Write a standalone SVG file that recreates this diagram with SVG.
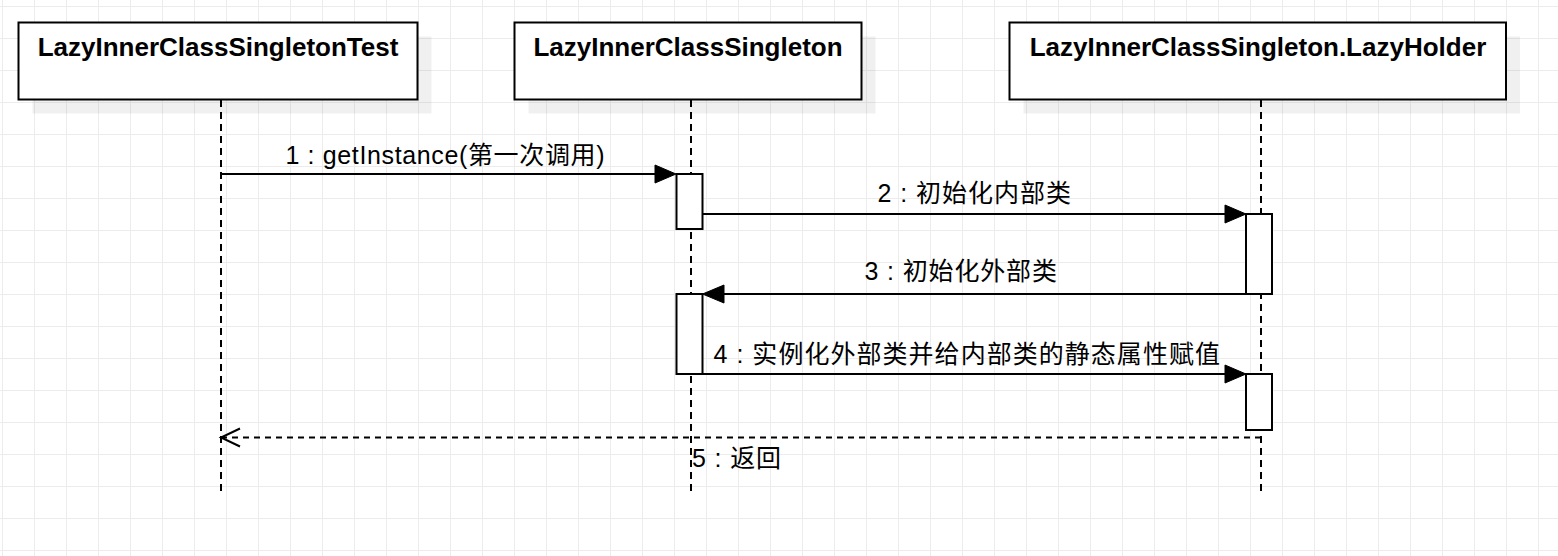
<svg xmlns="http://www.w3.org/2000/svg" width="1558" height="556" viewBox="0 0 1558 556">
<style>
.box{fill:#ffffff;stroke:#000000;stroke-width:2}
.shadow{fill:#000000;fill-opacity:0.06;stroke:none}
.title{font-family:"Liberation Sans",Arial,"Noto Sans CJK SC",sans-serif;font-weight:bold;font-size:26px;fill:#000000;text-anchor:middle}
.life{fill:none;stroke:#000000;stroke-width:2;stroke-dasharray:7 5}
.act{fill:#ffffff;stroke:#000000;stroke-width:2}
.msg{fill:none;stroke:#000000;stroke-width:2}
.ret{fill:none;stroke:#000000;stroke-width:2;stroke-dasharray:6 5}
.head{fill:#000000;stroke:#000000;stroke-width:1}
.open{fill:none;stroke:#000000;stroke-width:2}
.lbl{font-family:"Liberation Sans",Arial,"Noto Sans CJK SC",sans-serif;font-size:25px;fill:#000000}
</style>
<defs>
<pattern id="grid" x="0" y="0" width="32" height="32" patternUnits="userSpaceOnUse">
<path d="M2.5 0V32M0 6.5H32" fill="none" stroke="#ececec" stroke-width="1"/>
</pattern>
</defs>
<rect x="0" y="0" width="1558" height="556" fill="#ffffff"/>
<rect x="0" y="0" width="1558" height="556" fill="url(#grid)"/>

<g id="p1">
<rect class="shadow" x="32.5" y="36.5" width="399" height="77"/>
<rect class="box" x="18.5" y="22.5" width="399" height="77"/>
<text class="title" x="218" y="56">LazyInnerClassSingletonTest</text>
<line class="life" x1="221" y1="100" x2="221" y2="492"/>
</g>

<g id="p2">
<rect class="shadow" x="528.5" y="36.5" width="347" height="77"/>
<rect class="box" x="514.5" y="22.5" width="347" height="77"/>
<text class="title" x="688" y="56">LazyInnerClassSingleton</text>
<line class="life" x1="691" y1="100" x2="691" y2="492"/>
</g>

<g id="p3">
<rect class="shadow" x="1023.5" y="36.5" width="496.5" height="77"/>
<rect class="box" x="1009.5" y="22.5" width="496.5" height="77"/>
<text class="title" x="1258" y="56">LazyInnerClassSingleton.LazyHolder</text>
<line class="life" x1="1261" y1="100" x2="1261" y2="492"/>
</g>

<g id="a1"><rect class="act" x="676.5" y="174" width="26" height="55"/></g>
<g id="a2"><rect class="act" x="676.5" y="294" width="26" height="80"/></g>
<g id="a3"><rect class="act" x="1246" y="214" width="26" height="80"/></g>
<g id="a4"><rect class="act" x="1246" y="374" width="26" height="56"/></g>

<g id="connectors">
<line class="msg" x1="221" y1="174" x2="660" y2="174"/>
<polygon class="head" points="676,174 655,165 655,183"/>
<text class="lbl" x="285.5" y="163.5" textLength="319">1 : getInstance(第一次调用)</text>

<line class="msg" x1="702.5" y1="214" x2="1230" y2="214"/>
<polygon class="head" points="1246,214 1225,205 1225,223"/>
<text class="lbl" x="877.5" y="202" textLength="193.5">2 : 初始化内部类</text>

<line class="msg" x1="1246" y1="294" x2="718" y2="294"/>
<polygon class="head" points="702.5,294 724,285 724,303"/>
<text class="lbl" x="864.5" y="280" textLength="192.5">3 : 初始化外部类</text>

<line class="msg" x1="702.5" y1="374" x2="1230" y2="374"/>
<polygon class="head" points="1246,374 1225,365 1225,383"/>
<text class="lbl" x="713.5" y="363" textLength="506.5">4 : 实例化外部类并给内部类的静态属性赋值</text>

<line class="ret" x1="1261" y1="437.5" x2="223" y2="437.5"/>
<polyline class="open" points="240,428.5 221,437.5 240,446.5"/>
<text class="lbl" x="692" y="466.5" textLength="89">5 : 返回</text>
</g>
</svg>
